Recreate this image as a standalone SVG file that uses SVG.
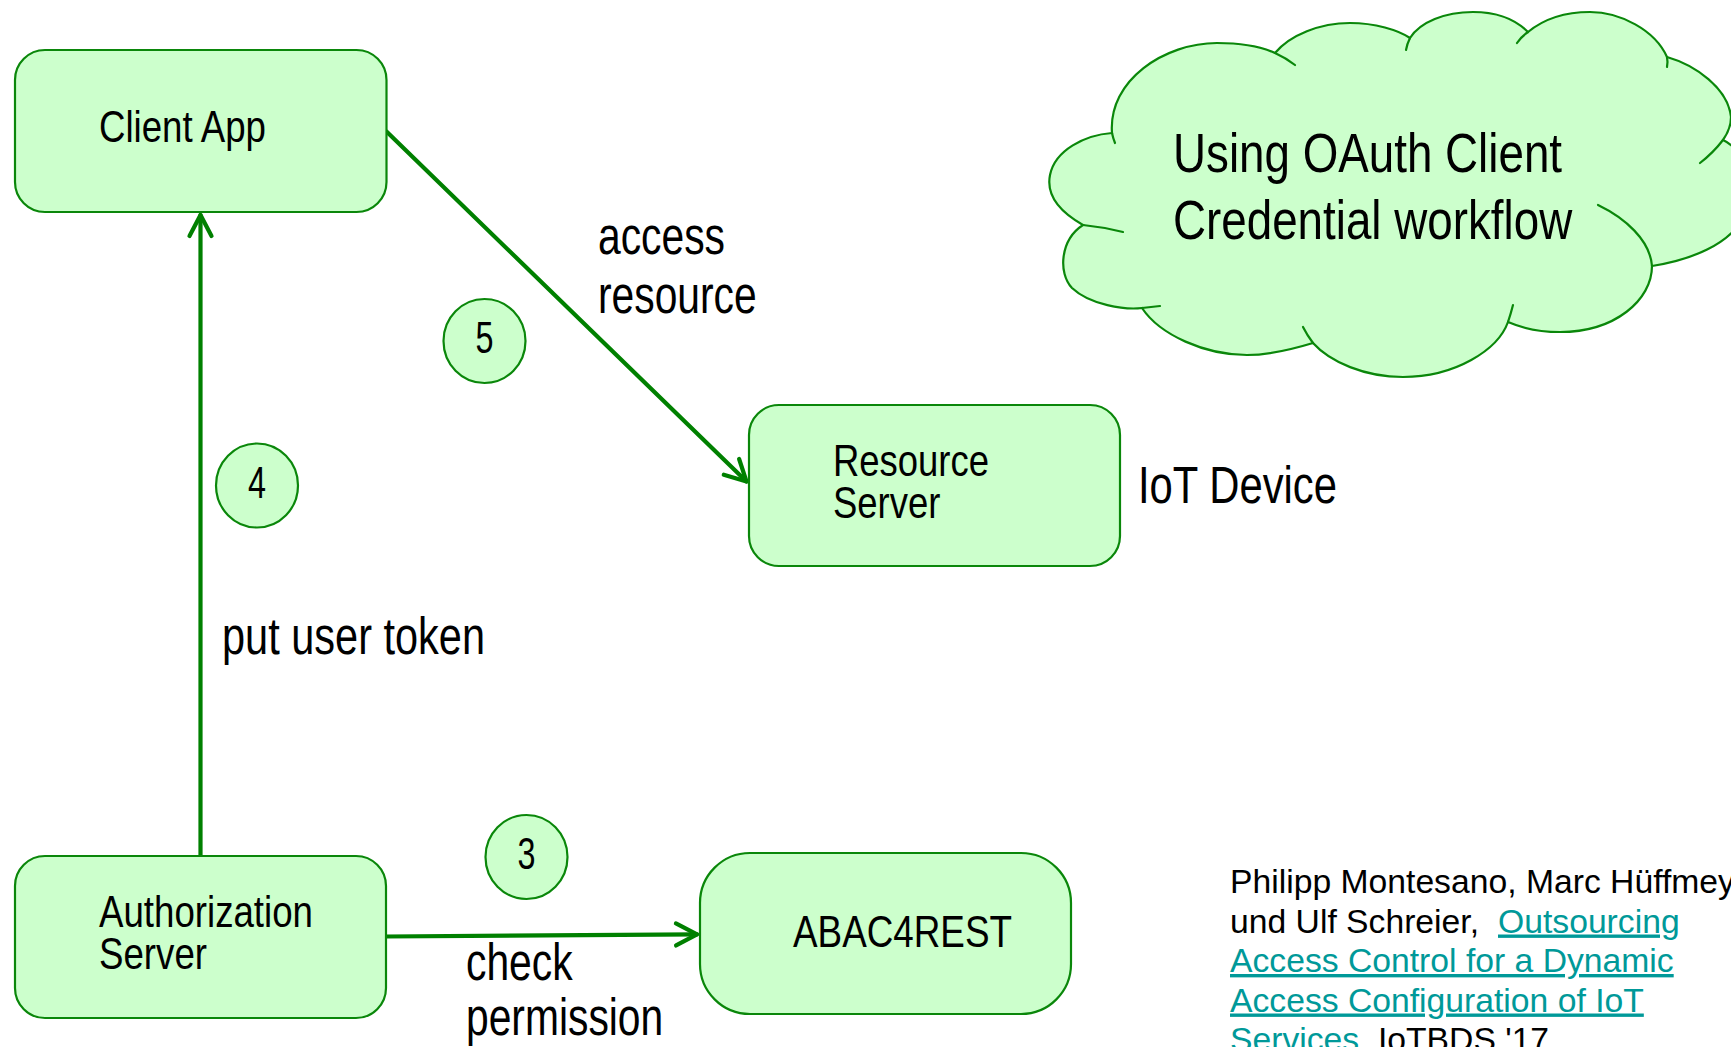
<svg xmlns="http://www.w3.org/2000/svg" width="1731" height="1047" viewBox="0 0 1731 1047">
  <style>
    .box { fill: #ccffcc; stroke: #0a870a; stroke-width: 2.2; }
    .edge { fill: none; stroke: #008000; stroke-width: 4.2; stroke-linecap: round; }
    .stub { fill: none; stroke: #0a870a; stroke-width: 2.2; stroke-linecap: round; }
    .t { font-family: "Liberation Sans", Arial, sans-serif; fill: #000; }
    .node { font-size: 45px; }
    .label { font-size: 51px; }
    .cite { font-family: "Liberation Sans", Arial, sans-serif; font-size: 33.7px; fill: #000; }
    .link { fill: #009999; text-decoration: underline; }
  </style>
  <defs>
    <marker id="arrow" markerUnits="userSpaceOnUse" viewBox="-26 -15 30 30" markerWidth="30" markerHeight="30" refX="0" refY="0" orient="auto">
      <path d="M-21,-11 L0,0 L-21,11" fill="none" stroke="#008000" stroke-width="4.2" stroke-linecap="round" stroke-linejoin="round"/>
    </marker>
  </defs>
  <rect width="1731" height="1047" fill="#ffffff"/>

  <!-- cloud with title -->
  <g id="cloud">
    <path class="box" d="M1112,133 C1108,80 1165,43 1217,43 C1245,43 1262,47 1275,53 C1290,35 1320,23 1350,23 C1375,23 1398,30 1410,38 C1420,22 1445,12 1473,12 C1500,12 1518,22 1528,32 C1545,18 1565,12 1590,12 C1620,12 1655,30 1667,57 C1695,65 1728,88 1731,117 C1731,125 1728,133 1723,140 C1745,150 1760,190 1745,215 C1730,245 1690,260 1652,266 C1652,300 1615,332 1560,332 C1540,332 1522,328 1508,322 C1498,350 1455,377 1403,377 C1365,377 1330,362 1313,343 C1290,350 1268,355 1247,355 C1205,355 1160,335 1142,308 C1125,310 1090,305 1072,288 C1058,273 1060,240 1083,225 C1060,212 1046,195 1050,175 C1055,150 1085,135 1112,133 Z"/>
    <path class="stub" d="M1112,133 Q1113,138 1115,143"/>
    <path class="stub" d="M1275,53 Q1286,58 1295,65"/>
    <path class="stub" d="M1410,38 Q1407,44 1406,50"/>
    <path class="stub" d="M1528,32 Q1521,37 1517,43"/>
    <path class="stub" d="M1667,57 Q1668,62 1667,67"/>
    <path class="stub" d="M1723,140 Q1713,153 1700,163"/>
    <path class="stub" d="M1598,205 C1625,218 1650,240 1652,266"/>
    <path class="stub" d="M1508,322 Q1511,313 1513,305"/>
    <path class="stub" d="M1313,343 Q1307,335 1303,327"/>
    <path class="stub" d="M1142,308 Q1151,307 1160,306"/>
    <path class="stub" d="M1083,225 Q1103,227 1123,232"/>
    <text class="t" font-size="55" transform="translate(1173,172) scale(0.832,1)"><tspan x="0" y="0">Using OAuth Client</tspan><tspan x="0" y="67">Credential workflow</tspan></text>
  </g>

  <!-- connectors -->
  <g id="connectors">
    <line class="edge" x1="200.5" y1="856" x2="200.5" y2="215" marker-end="url(#arrow)"/>
    <line class="edge" x1="386.5" y1="131.5" x2="746.5" y2="481.5" marker-end="url(#arrow)"/>
    <line class="edge" x1="386" y1="936.5" x2="697" y2="934.3" marker-end="url(#arrow)"/>
  </g>

  <!-- nodes -->
  <g id="client-app">
    <rect class="box" x="15" y="50" width="371.5" height="162" rx="30" ry="30"/>
    <text class="t node" x="99" y="142" textLength="167" lengthAdjust="spacingAndGlyphs">Client App</text>
  </g>
  <g id="resource-server">
    <rect class="box" x="749" y="405" width="371" height="161" rx="30" ry="30"/>
    <text class="t node" transform="translate(833,476) scale(0.81,1)"><tspan x="0" y="0">Resource</tspan><tspan x="0" y="42">Server</tspan></text>
  </g>
  <g id="authorization-server">
    <rect class="box" x="15" y="856" width="371" height="162" rx="30" ry="30"/>
    <text class="t node" transform="translate(99,927) scale(0.815,1)"><tspan x="0" y="0">Authorization</tspan><tspan x="0" y="42">Server</tspan></text>
  </g>
  <g id="abac4rest">
    <rect class="box" x="700" y="853" width="371" height="161" rx="50" ry="50"/>
    <text class="t node" x="793" y="947" textLength="219" lengthAdjust="spacingAndGlyphs">ABAC4REST</text>
  </g>

  <!-- step markers -->
  <g id="step-5">
    <ellipse class="box" cx="484.5" cy="341" rx="41" ry="42"/>
    <text class="t" font-size="44" x="484.5" y="353" text-anchor="middle" textLength="18" lengthAdjust="spacingAndGlyphs">5</text>
  </g>
  <g id="step-4">
    <ellipse class="box" cx="257" cy="485.5" rx="41" ry="42"/>
    <text class="t" font-size="44" x="257" y="497.5" text-anchor="middle" textLength="18" lengthAdjust="spacingAndGlyphs">4</text>
  </g>
  <g id="step-3">
    <ellipse class="box" cx="526.5" cy="857" rx="41" ry="42"/>
    <text class="t" font-size="44" x="526.5" y="869" text-anchor="middle" textLength="18" lengthAdjust="spacingAndGlyphs">3</text>
  </g>

  <!-- free labels -->
  <g id="labels">
    <text class="t label" transform="translate(598,254) scale(0.80,1)"><tspan x="0" y="0">access</tspan><tspan x="0" y="59">resource</tspan></text>
    <text class="t label" x="222" y="654" textLength="263" lengthAdjust="spacingAndGlyphs">put user token</text>
    <text class="t label" transform="translate(466,980) scale(0.80,1)"><tspan x="0" y="0">check</tspan><tspan x="0" y="55">permission</tspan></text>
    <text class="t label" x="1138" y="503" textLength="199" lengthAdjust="spacingAndGlyphs">IoT Device</text>
  </g>

  <!-- reference -->
  <g id="citation">
    <text class="cite" x="1230" y="893">Philipp Montesano, Marc Hüffmeyer</text>
    <text class="cite" x="1230" y="932.5">und Ulf Schreier,<tspan class="link" x="1498">Outsourcing</tspan></text>
    <text class="cite link" x="1230" y="972">Access Control for a Dynamic</text>
    <text class="cite link" x="1230" y="1011.5">Access Configuration of IoT</text>
    <text class="cite" x="1230" y="1051"><tspan class="link">Services</tspan>, IoTBDS '17</text>
  </g>
</svg>
